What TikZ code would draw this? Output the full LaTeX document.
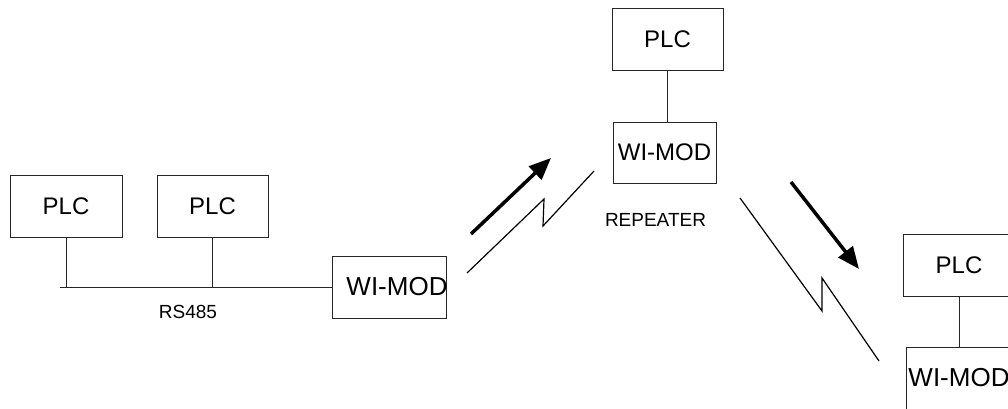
\documentclass[tikz,border=0pt]{standalone}
\usepackage{fontspec}
\setmainfont{Liberation Sans}
\usetikzlibrary{arrows.meta}
\newcommand{\boxfont}{\fontsize{24}{28}\selectfont}
\newcommand{\bigboxfont}{\fontsize{26}{30}\selectfont}
\newcommand{\tagfont}{\fontsize{19}{22}\selectfont}
\begin{document}
\begin{tikzpicture}[x=1pt,y=-1pt]
        \tikzstyle{boxstyle}=[shape=rectangle,draw=black!85,line width=1pt,inner sep=0pt,font=\boxfont]
        \tikzstyle{wire}=[draw=black!85,line width=1pt]
        \tikzstyle{radio}=[line width=1.2pt]
        \tikzstyle{dirarrow}=[line width=3.5pt,-{Triangle[length=22pt,width=18pt]}]
        \tikzstyle{tagstyle}=[font=\tagfont]
        \useasboundingbox (0,0) rectangle (1008,408);
        \clip (0,0) rectangle (1008,408);

        % the two PLCs on the bus at the left
        \node[boxstyle, minimum width=112pt, minimum height=62pt] at (66,206) (plcA) {PLC};
        \node[boxstyle, minimum width=111pt, minimum height=62pt] at (212.5,206) (plcB) {PLC};

        % the first WI-MOD, text runs over its right side
        \node[boxstyle, minimum width=114pt, minimum height=62pt,
              label={[font=\bigboxfont, xshift=8pt]center:WI-MOD}] at (389,287) (modA) {};

        % the RS485 bus
        \coordinate (busend) at (60,287);
        \draw[wire] (busend) -- (modA.west);
        \draw[wire] (plcA.south) -- (plcA.south |- busend);
        \draw[wire] (plcB.south) -- (plcB.south |- busend);
        \node[tagstyle] at (188,312) (bus) {RS485};

        % the repeater in the middle
        \node[boxstyle, minimum width=111pt, minimum height=62pt] at (667.5,39) (plcR) {PLC};
        \node[boxstyle, minimum width=103pt, minimum height=61pt] at (664.5,152.5) (modR) {WI-MOD};
        \draw[wire] (plcR.south) -- (plcR.south |- modR.north);
        \node[tagstyle] at (655.5,220) (rep) {REPEATER};

        % the station at the far right
        \node[boxstyle, minimum width=112pt, minimum height=62pt] at (959,265) (plcC) {PLC};
        \node[boxstyle, minimum width=106pt, minimum height=62pt, font=\bigboxfont] at (959,378) (modC) {WI-MOD};
        \draw[wire] (plcC.south) -- (modC.north);

        % radio link to the repeater
        \draw[radio] (467,273) -- (544,199) -- (543,226) -- (594,171);
        \draw[dirarrow] (471,234) -- (551,158);

        % radio link from the repeater
        \draw[radio] (740,198) -- (822,311) -- (822,278) -- (879,361);
        \draw[dirarrow] (791,182) -- (859,269);
    \end{tikzpicture}
\end{document}
